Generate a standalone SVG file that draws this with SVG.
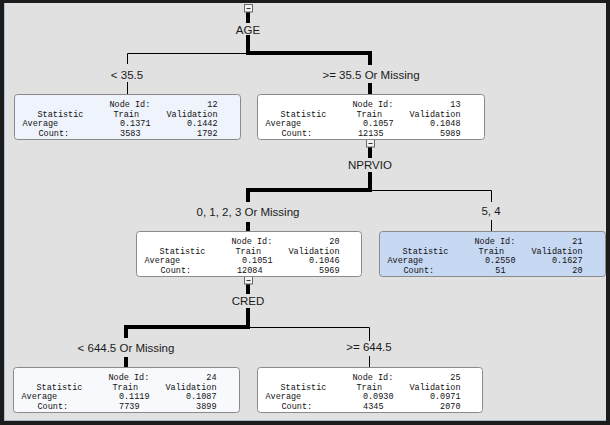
<svg xmlns="http://www.w3.org/2000/svg" width="610" height="425" viewBox="0 0 610 425">
<style>
.bg{fill:#e1e1e1}
.box{stroke:#8a8a8a;stroke-width:1}
.thin{fill:none;stroke:#000;stroke-width:1}
.thick{fill:none;stroke:#000;stroke-width:4}
.lbl{font-family:"Liberation Sans",Arial,sans-serif;font-size:11.5px;fill:#1a1a1a;text-anchor:middle}
.t{font-family:"Liberation Mono","Courier New",monospace;font-size:8.5px;fill:#111}
.e{text-anchor:end}
.cb{fill:#f2f2f2;stroke:#6a6a6a;stroke-width:1}
.cbm{stroke:#333;stroke-width:1}
</style>
<defs>
<g id="collapse">
<rect class="cb" x="-3.5" y="0.5" width="8" height="7.5"/>
<line class="cbm" x1="-1.5" y1="4.5" x2="2.5" y2="4.5"/>
</g>
</defs>
<rect x="0" y="0" width="610" height="425" fill="#1c1c1c"/>
<rect class="bg" x="4" y="3" width="602" height="418"/>
<line x1="4.5" y1="3" x2="4.5" y2="421" stroke="#a8c2de" stroke-width="1"/>
<line x1="4" y1="420.5" x2="606" y2="420.5" stroke="#a9b6c6" stroke-width="1"/>

<g id="connectors">
<path class="thick" d="M248,12 V23 M248,35 V53 H370 V65 M370,83 V95"/>
<path class="thin" d="M248,53.5 H127.5 V64 M127.5,82 V95"/>
<path class="thick" d="M370,146 V158 M370,172 V190 H248 V202 M248,222 V231"/>
<path class="thin" d="M370,190.5 H491.5 V202 M491.5,220 V231"/>
<path class="thick" d="M248,283 V294 M248,308 V327 H126 V338 M126,357 V367"/>
<path class="thin" d="M248,327.5 H369.5 V341 M369.5,356 V367"/>
<use href="#collapse" x="248" y="4"/>
<use href="#collapse" x="370" y="139"/>
<use href="#collapse" x="248" y="276"/>
<text class="lbl" x="248" y="33.5">AGE</text>
<text class="lbl" x="127" y="79">&lt; 35.5</text>
<text class="lbl" x="371" y="79">&gt;= 35.5 Or Missing</text>
<text class="lbl" x="370" y="169">NPRVIO</text>
<text class="lbl" x="248" y="216">0, 1, 2, 3 Or Missing</text>
<text class="lbl" x="491" y="215">5, 4</text>
<text class="lbl" x="248" y="305">CRED</text>
<text class="lbl" x="126" y="352">&lt; 644.5 Or Missing</text>
<text class="lbl" x="369" y="351">&gt;= 644.5</text>
</g>

<g id="node12" transform="translate(14.5,94.5)">
<rect class="box" x="0" y="0" width="226" height="45" rx="3" fill="#eff3fb"/>
<text class="t" x="95" y="12.5">Node Id:</text><text class="t e" x="203" y="12.5">12</text>
<text class="t" x="23" y="22">Statistic</text><text class="t" x="99" y="22">Train</text><text class="t e" x="203" y="22">Validation</text>
<text class="t" x="8" y="31.5">Average</text><text class="t e" x="136" y="31.5">0.1371</text><text class="t e" x="203" y="31.5">0.1442</text>
<text class="t" x="24" y="41">Count:</text><text class="t e" x="126" y="41">3583</text><text class="t e" x="203" y="41">1792</text>
</g>

<g id="node13" transform="translate(257.5,94.5)">
<rect class="box" x="0" y="0" width="227" height="45" rx="3" fill="#ffffff"/>
<text class="t" x="95" y="12.5">Node Id:</text><text class="t e" x="203" y="12.5">13</text>
<text class="t" x="23" y="22">Statistic</text><text class="t" x="99" y="22">Train</text><text class="t e" x="203" y="22">Validation</text>
<text class="t" x="8" y="31.5">Average</text><text class="t e" x="136" y="31.5">0.1057</text><text class="t e" x="203" y="31.5">0.1048</text>
<text class="t" x="24" y="41">Count:</text><text class="t e" x="126" y="41">12135</text><text class="t e" x="203" y="41">5989</text>
</g>

<g id="node20" transform="translate(136.5,231.5)">
<rect class="box" x="0" y="0" width="225" height="45" rx="3" fill="#ffffff"/>
<text class="t" x="95" y="12.5">Node Id:</text><text class="t e" x="203" y="12.5">20</text>
<text class="t" x="23" y="22">Statistic</text><text class="t" x="99" y="22">Train</text><text class="t e" x="203" y="22">Validation</text>
<text class="t" x="8" y="31.5">Average</text><text class="t e" x="136" y="31.5">0.1051</text><text class="t e" x="203" y="31.5">0.1046</text>
<text class="t" x="24" y="41">Count:</text><text class="t e" x="126" y="41">12084</text><text class="t e" x="203" y="41">5969</text>
</g>

<g id="node21" transform="translate(379.5,231.5)">
<rect class="box" x="0" y="0" width="226" height="45" rx="3" fill="#c7d8f2"/>
<text class="t" x="95" y="12.5">Node Id:</text><text class="t e" x="203" y="12.5">21</text>
<text class="t" x="23" y="22">Statistic</text><text class="t" x="99" y="22">Train</text><text class="t e" x="203" y="22">Validation</text>
<text class="t" x="8" y="31.5">Average</text><text class="t e" x="136" y="31.5">0.2550</text><text class="t e" x="203" y="31.5">0.1627</text>
<text class="t" x="24" y="41">Count:</text><text class="t e" x="126" y="41">51</text><text class="t e" x="203" y="41">20</text>
</g>

<g id="node24" transform="translate(13.5,367.5)">
<rect class="box" x="0" y="0" width="226" height="45" rx="3" fill="#f7f9fd"/>
<text class="t" x="95" y="12.5">Node Id:</text><text class="t e" x="203" y="12.5">24</text>
<text class="t" x="23" y="22">Statistic</text><text class="t" x="99" y="22">Train</text><text class="t e" x="203" y="22">Validation</text>
<text class="t" x="8" y="31.5">Average</text><text class="t e" x="136" y="31.5">0.1119</text><text class="t e" x="203" y="31.5">0.1087</text>
<text class="t" x="24" y="41">Count:</text><text class="t e" x="126" y="41">7739</text><text class="t e" x="203" y="41">3899</text>
</g>

<g id="node25" transform="translate(257.5,367.5)">
<rect class="box" x="0" y="0" width="225" height="45" rx="3" fill="#ffffff"/>
<text class="t" x="95" y="12.5">Node Id:</text><text class="t e" x="203" y="12.5">25</text>
<text class="t" x="23" y="22">Statistic</text><text class="t" x="99" y="22">Train</text><text class="t e" x="203" y="22">Validation</text>
<text class="t" x="8" y="31.5">Average</text><text class="t e" x="136" y="31.5">0.0930</text><text class="t e" x="203" y="31.5">0.0971</text>
<text class="t" x="24" y="41">Count:</text><text class="t e" x="126" y="41">4345</text><text class="t e" x="203" y="41">2070</text>
</g>
</svg>
